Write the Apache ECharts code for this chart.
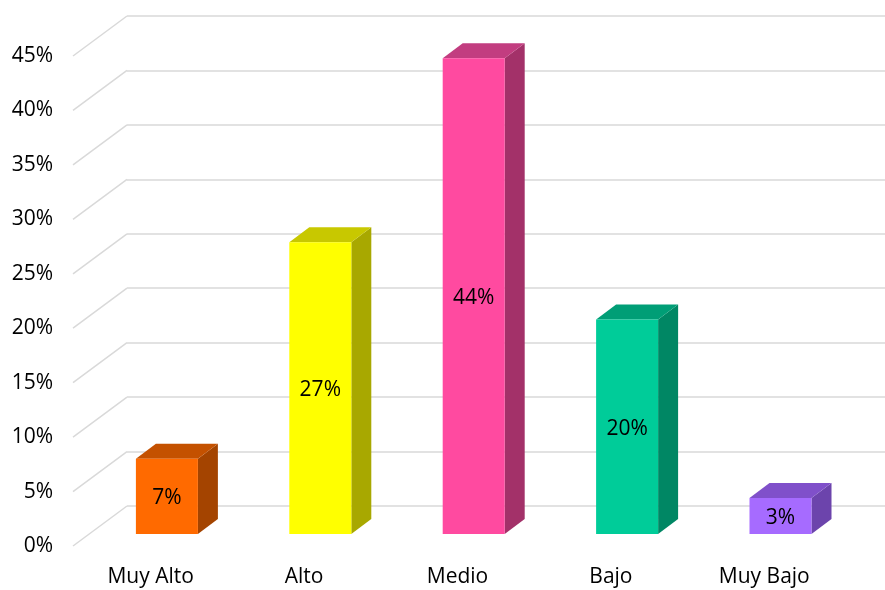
<!DOCTYPE html>
<html>
<head>
<meta charset="utf-8">
<script src="https://cdn.jsdelivr.net/npm/echarts@6/dist/echarts.min.js"></script>
<style>html,body{margin:0;padding:0;background:#fff}#c{width:885px;height:590px}</style>
</head>
<body>
<div id="c"></div>
<script>
const categories = ['Muy Alto', 'Alto', 'Medio', 'Bajo', 'Muy Bajo'];
const values = [0.069, 0.268, 0.437, 0.197, 0.033];
const yTicks = [0, 0.05, 0.10, 0.15, 0.20, 0.25, 0.30, 0.35, 0.40, 0.45];
const frontColors = ['#FF6A00', '#FFFF00', '#FF4AA0', '#00CC99', '#A66BFF'];
const topColors = ['#C45100', '#C8C800', '#C23D80', '#009E76', '#8050CA'];
const sideColors = ['#A44400', '#A8A800', '#A33169', '#008764', '#6C44AC'];

const FONT = '"Open Sans", sans-serif';
const DX = 54, DY = 40;         // 3D depth of the plot box
const BAR_OFF = 0.3;            // bar front face depth ratio
const BAR_DX = 20, BAR_DY = 15; // bar depth
const BAR_W = 62;

const chart = echarts.init(document.getElementById('c'));
chart.setOption({
  animation: false,
  grid: [
    { left: 127, right: 0, top: 16, bottom: 84 },
    { left: 74, right: 44, top: 56, bottom: 44 }
  ],
  xAxis: [
    { gridIndex: 0, type: 'category', data: categories, show: false },
    { gridIndex: 1, type: 'category', data: categories,
      axisLine: { show: false }, axisTick: { show: false },
      axisLabel: { margin: 21, fontSize: 21, fontFamily: FONT, color: '#000' } }
  ],
  yAxis: [
    { gridIndex: 0, type: 'value', min: 0, max: 0.45, interval: 0.05,
      axisLine: { show: false }, axisTick: { show: false }, axisLabel: { show: false },
      splitLine: { show: true, lineStyle: { color: '#D9D9D9', width: 1.5 } } },
    { gridIndex: 1, type: 'value', min: 0, max: 0.45, interval: 0.05,
      axisLine: { show: false }, axisTick: { show: false }, splitLine: { show: false },
      axisLabel: { margin: 21, fontSize: 21, fontFamily: FONT, color: '#000', padding: [6, 0, 0, 0],
        formatter: v => Math.round(v * 100) + '%' } }
  ],
  series: [
    {
      type: 'custom', xAxisIndex: 1, yAxisIndex: 1, z: 1, silent: true,
      data: yTicks.map(t => [0, t]),
      renderItem: function (params, api) {
        const p = api.coord([0, api.value(1)]);
        const x0 = params.coordSys.x;
        return { type: 'line', shape: { x1: x0 - 1, y1: p[1], x2: x0 - 1 + DX, y2: p[1] - DY },
          style: { stroke: '#D9D9D9', lineWidth: 1.5 } };
      }
    },
    {
      type: 'custom', xAxisIndex: 1, yAxisIndex: 1, z: 5, silent: true,
      data: values.map((v, i) => [i, v]),
      renderItem: function (params, api) {
        const i = api.value(0), v = api.value(1);
        const b = api.coord([i, 0]);
        const t = api.coord([i, v]);
        const cx = b[0] + DX * BAR_OFF;
        const yb = b[1] - DY * BAR_OFF;
        const yt = t[1] - DY * BAR_OFF;
        const xl = cx - BAR_W / 2, xr = cx + BAR_W / 2;
        return { type: 'group', children: [
          { type: 'polygon', shape: { points: [[xr, yt], [xr + BAR_DX, yt - BAR_DY], [xr + BAR_DX, yb - BAR_DY], [xr, yb]] },
            style: { fill: sideColors[i] } },
          { type: 'polygon', shape: { points: [[xl, yt], [xl + BAR_DX, yt - BAR_DY], [xr + BAR_DX, yt - BAR_DY], [xr, yt]] },
            style: { fill: topColors[i] } },
          { type: 'rect', shape: { x: xl, y: yt, width: BAR_W, height: yb - yt },
            style: { fill: frontColors[i] } },
          { type: 'text', style: { text: Math.round(v * 100) + '%', x: cx, y: (yt + yb) / 2 + 2,
              align: 'center', verticalAlign: 'middle', fontSize: 21, fontFamily: FONT, fill: '#000' } }
        ] };
      }
    }
  ]
});
</script>
</body>
</html>
